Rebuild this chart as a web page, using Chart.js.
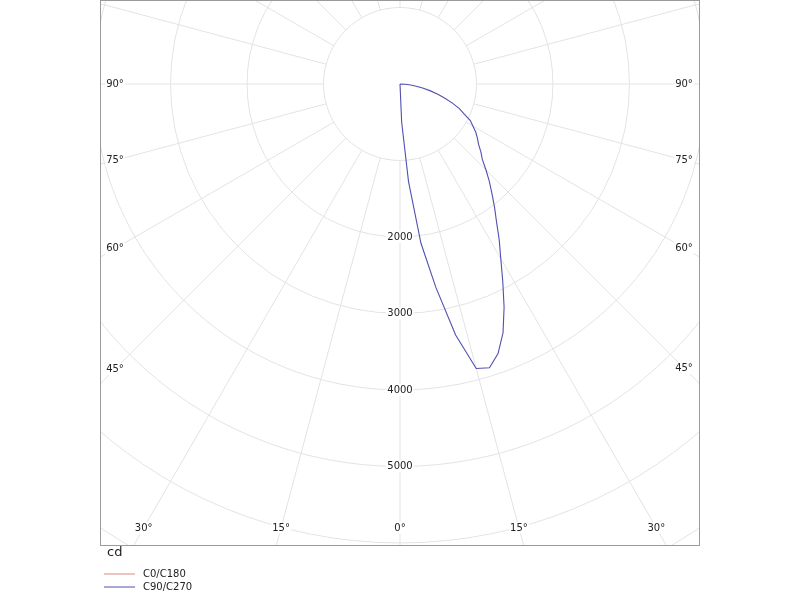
<!DOCTYPE html>
<html>
<head>
<meta charset="utf-8">
<script src="https://cdn.jsdelivr.net/npm/chart.js@4"></script>
<style>
html,body{margin:0;padding:0;background:#fff;}
#wrap{width:800px;height:600px;}
</style>
</head>
<body>
<div id="wrap"><canvas id="c" width="800" height="600"></canvas></div>
<script>
// Gamma angles (degrees from nadir)
const gammaAngles = [0,2.5,5,7.5,10,12.5,15,17.5,20,22.5,25,27.5,30,32.5,35,37.5,40,42.5,45,47.5,50,52.5,55,57.5,60,62.5,65,67.5,70,72.5,75,77.5,80,82.5,85,87.5,90];
// Luminous intensity, cd
const c0c180 = [0,0,0,0,0,0,0,0,0,0,0,0,0,0,0,0,0,0,0,0,0,0,0,0,0,0,0,0,0,0,0,0,0,0,0,0,0];
const c90c270 = [0,500,1280,2100,2700,3360,3850,3890,3748,3520,3220,2910,2635,2414,2200,2030,1870,1730,1590,1460,1380,1295,1235,1175,1100,1037,924,840,730,610,506,400,300,200,140,70,0];
const seriesLabels = ['C0/C180','C90/C270'];
const ringValues = [1000,2000,3000,4000,5000,6000,7000,8000];
const ringLabels = ['2000','3000','4000','5000'];
const angleTicks = [0,15,30,45,60,75,90];
const unitLabel = 'cd';

function toXY(angles, vals){
  return angles.map((g,i)=>{
    const r = g*Math.PI/180;
    return {x: vals[i]*Math.sin(r), y: -vals[i]*Math.cos(r)};
  });
}

const polarGrid = {
  id:'polarGrid',
  beforeDatasetsDraw(chart){
    const {ctx, chartArea:a, scales:{x,y}} = chart;
    const cx = x.getPixelForValue(0), cy = y.getPixelForValue(0);
    const k = Math.abs(x.getPixelForValue(1000)-cx)/1000;
    ctx.save();
    ctx.beginPath(); ctx.rect(a.left,a.top,a.right-a.left,a.bottom-a.top); ctx.clip();
    ctx.strokeStyle = '#e3e3e3'; ctx.lineWidth = 1;
    ringValues.forEach(v=>{
      ctx.beginPath(); ctx.arc(cx,cy,v*k,0,Math.PI*2); ctx.stroke();
    });
    const r0 = ringValues[0]*k, r1 = 12000*k;
    for(let d=0; d<360; d+=15){
      const t = d*Math.PI/180;
      ctx.beginPath();
      ctx.moveTo(cx+r0*Math.sin(t), cy+r0*Math.cos(t));
      ctx.lineTo(cx+r1*Math.sin(t), cy+r1*Math.cos(t));
      ctx.stroke();
    }
    ctx.font = '10px "DejaVu Sans", Verdana, sans-serif';
    ctx.textAlign = 'center'; ctx.textBaseline = 'middle';
    const lab = (txt,px,py)=>{
      const w = ctx.measureText(txt).width;
      ctx.fillStyle = '#fff';
      ctx.fillRect(px-w/2-1, py-6, w+2, 12);
      ctx.fillStyle = '#222';
      ctx.fillText(txt,px,py);
    };
    ringLabels.forEach(s=>{
      lab(s, cx, y.getPixelForValue(-Number(s)));
    });
    const insL = 14, insR = 15, insB = 17;
    angleTicks.forEach(g=>{
      [1,-1].forEach(side=>{
        if(g===0 && side<0) return;
        const t = g*Math.PI/180;
        const sx = Math.sin(t), sy = Math.cos(t);
        const hw = side>0 ? (a.right-insR-cx) : (cx-a.left-insL);
        const hb = a.bottom-insB-cy;
        let tt = Infinity;
        if(sx>1e-6) tt = Math.min(tt, hw/sx);
        if(sy>1e-6) tt = Math.min(tt, hb/sy);
        lab(g+'°', cx+side*tt*sx, cy+tt*sy);
      });
    });
    ctx.restore();
  },
  afterDraw(chart){
    const {ctx, chartArea:a} = chart;
    ctx.save();
    ctx.strokeStyle = '#9a9a9a'; ctx.lineWidth = 1;
    ctx.strokeRect(a.left-0.5, a.top-0.5, a.right-a.left+1, a.bottom-a.top+1);
    ctx.fillStyle = '#222';
    ctx.font = '13px "DejaVu Sans", Verdana, sans-serif';
    ctx.textAlign='left'; ctx.textBaseline='middle';
    ctx.fillText(unitLabel, a.left+6, a.bottom+8);
    ctx.font = '10px "DejaVu Sans", Verdana, sans-serif';
    chart.data.datasets.forEach((ds,i)=>{
      const yy = a.bottom + 29 + i*13;
      ctx.strokeStyle = ds.borderColor; ctx.lineWidth = 1;
      ctx.beginPath(); ctx.moveTo(a.left+3, yy); ctx.lineTo(a.left+34, yy); ctx.stroke();
      ctx.fillStyle = '#222';
      ctx.fillText(ds.label, a.left+42, yy);
    });
    ctx.restore();
  }
};

new Chart(document.getElementById('c'), {
  type:'scatter',
  data:{
    datasets:[
      {label:seriesLabels[0], data:toXY(gammaAngles,c0c180), showLine:true, borderColor:'#e08585', borderWidth:1, pointRadius:0, tension:0, fill:false},
      {label:seriesLabels[1], data:toXY(gammaAngles,c90c270), showLine:true, borderColor:'#5050b0', borderWidth:1.1, pointRadius:0, tension:0, fill:false}
    ]
  },
  options:{
    responsive:false, animation:false, devicePixelRatio:1,
    layout:{padding:{left:101,right:101,top:1,bottom:55}},
    scales:{
      x:{type:'linear', min:-3909, max:3909, display:false},
      y:{type:'linear', min:-6026, max:1085, display:false}
    },
    plugins:{legend:{display:false}, tooltip:{enabled:false}}
  },
  plugins:[polarGrid]
});
</script>
</body>
</html>
